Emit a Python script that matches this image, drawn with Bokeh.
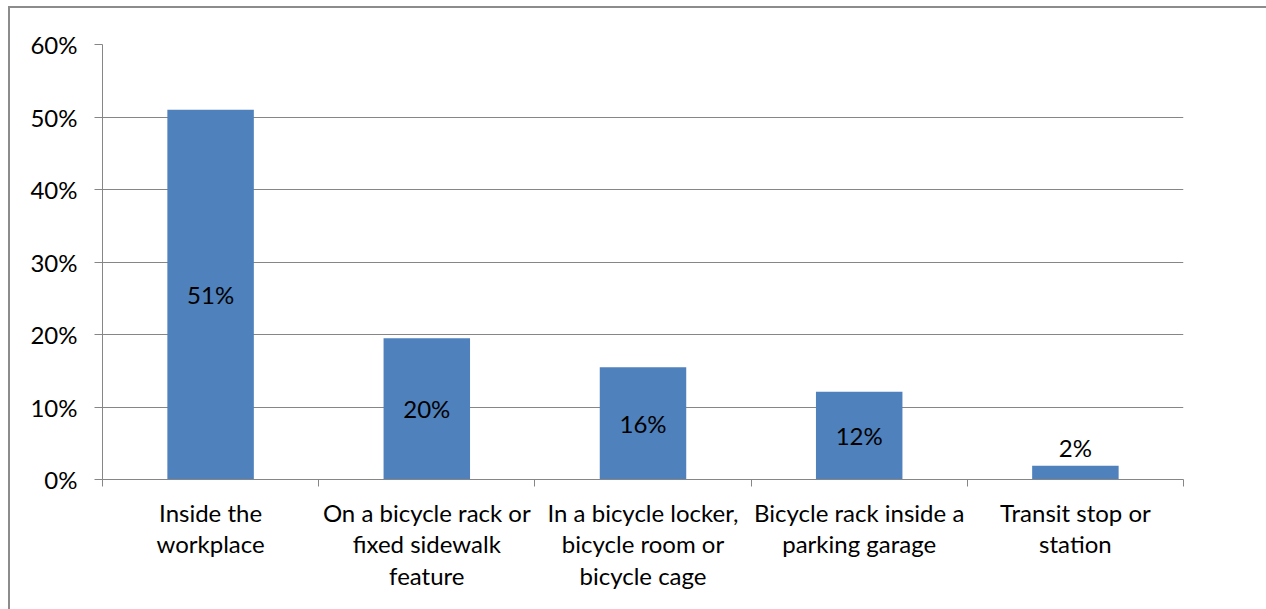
from bokeh.plotting import figure
from bokeh.models import Range1d, FixedTicker, PrintfTickFormatter, ColumnDataSource
from bokeh.core.properties import value
from bokeh.embed import file_html
from bokeh.resources import INLINE

categories = [
    "Inside the\nworkplace",
    "On a bicycle rack or\nfixed sidewalk\nfeature",
    "In a bicycle locker,\nbicycle room or\nbicycle cage",
    "Bicycle rack inside a\nparking garage",
    "Transit stop or\nstation",
]
values = [51.0, 19.5, 15.5, 12.1, 1.9]
value_labels = ["51%", "20%", "16%", "12%", "2%"]
y_ticks = [0, 10, 20, 30, 40, 50, 60]

FONT = "Lato"
FS = "24px"
GRID = "#868686"

n = len(categories)
centers = [i + 0.5 for i in range(n)]

p = figure(width=1258, height=603, output_backend="svg", toolbar_location=None,
           x_range=Range1d(0, n), y_range=Range1d(0, 60),
           min_border_left=92, min_border_right=85, min_border_top=36,
           min_border_bottom=132)
p.margin = (6, 0, 0, 8)
p.styles = {"border-left": "2px solid #8c8c8c", "border-top": "2px solid #8c8c8c"}
p.outline_line_color = None
p.background_fill_color = "white"
p.border_fill_color = "white"

p.vbar(x=centers, top=values, width=0.4, fill_color="#4F81BD", line_color=None)

# y axis
p.yaxis.ticker = FixedTicker(ticks=y_ticks)
p.yaxis.formatter = PrintfTickFormatter(format="%d%%")
p.yaxis.axis_line_color = GRID
p.yaxis.major_tick_line_color = GRID
p.yaxis.major_tick_in = 0
p.yaxis.major_tick_out = 8
p.yaxis.minor_tick_line_color = None
p.yaxis.major_label_standoff = 17
p.yaxis.major_label_text_font = FONT
p.yaxis.major_label_text_font_size = FS
p.yaxis.major_label_text_color = "black"

# x axis (boundary ticks only)
p.xaxis.ticker = FixedTicker(ticks=list(range(n + 1)))
p.xaxis.axis_line_color = GRID
p.xaxis.major_tick_line_color = GRID
p.xaxis.major_tick_in = 0
p.xaxis.major_tick_out = 7
p.xaxis.minor_tick_line_color = None
p.xaxis.major_label_text_alpha = 0
p.xaxis.major_label_text_font_size = "10px"

p.xgrid.grid_line_color = None
p.ygrid.grid_line_color = GRID
p.ygrid.grid_line_width = 1

# category labels
cat_src = ColumnDataSource(dict(x=centers, y=[0] * n, text=categories))
r = p.text(x="x", y="y", text="text", source=cat_src, text_align="center",
           text_baseline="top", y_offset=18, text_font=value(FONT),
           text_font_size=FS, text_line_height=1.1, text_color="black")
r.level = "overlay"

# data labels
lab_y = [v / 2 if v > 5 else v for v in values]
lab_base = ["middle" if v > 5 else "bottom" for v in values]
lab_off = [0 if v > 5 else -4 for v in values]
lab_src = ColumnDataSource(dict(x=centers, y=lab_y, text=value_labels,
                                base=lab_base, off=lab_off))
p.text(x="x", y="y", text="text", source=lab_src, text_align="center",
       text_baseline="base", y_offset="off", text_font=value(FONT),
       text_font_size=FS, text_color="black")

open("out.html", "w").write(file_html(p, INLINE))
